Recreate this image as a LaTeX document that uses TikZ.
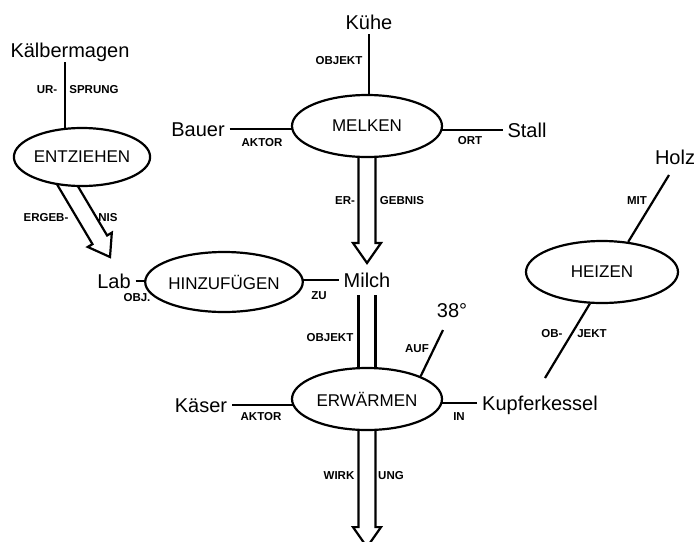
\documentclass[tikz,border=0pt]{standalone}
\usepackage{fontspec}
\setmainfont{Liberation Sans}
\usetikzlibrary{calc,shapes.geometric}
\pgfdeclarelayer{bg}
\pgfsetlayers{bg,main}
\tikzset{
  proc/.style={ellipse, draw, line width=2.2pt, fill=white, inner sep=0pt,
    font=\fontsize{17}{17}\selectfont},
  term/.style={inner sep=1pt, outer sep=4pt, font=\fontsize{20}{20}\selectfont,
    text height=14pt, text depth=0pt},
  rel/.style={inner sep=0pt, font=\fontsize{11.5}{11.5}\selectfont\bfseries,
    text height=8pt, text depth=0pt},
  conn/.style={line width=2.2pt},
  dconn/.style={line width=2.2pt, line join=miter},
}
\newcommand\dblarrow[2]{%
  \coordinate (dbB) at ($(#2)!20pt!(#1)$);
  \draw[dconn] ($(#1)!8.5pt!90:(#2)$) -- ($(dbB)!8.5pt!90:(#2)$)
    -- ($(dbB)!14pt!90:(#2)$) -- (#2) -- ($(dbB)!14pt!-90:(#2)$)
    -- ($(dbB)!8.5pt!-90:(#2)$) -- ($(#1)!8.5pt!-90:(#2)$);
}
\begin{document}
\begin{tikzpicture}[x=1pt,y=-1pt]
\useasboundingbox (0,0) rectangle (695,541);
\clip (0,0) rectangle (695,541);

% terms
\node[term] (kalb) at (70,50) {Kälbermagen};
\node[term] (kuhe) at (369,22) {Kühe};
\node[term] (bauer) at (198,129) {Bauer};
\node[term] (stall) at (527,130) {Stall};
\node[term] (holz) at (675,157) {Holz};
\node[term] (lab) at (114,281) {Lab};
\node[term] (milch) at (367,280) {Milch};
\node[term] (deg) at (452,310) {38°};
\node[term] (kaeser) at (201,405) {Käser};
\node[term] (kupfer) at (540,403) {Kupferkessel};

% processes
\node[proc, minimum width=134pt, minimum height=58pt] (entz) at (82,157) {ENTZIEHEN};
\node[proc, minimum width=150pt, minimum height=62pt] (melken) at (367,126) {MELKEN};
\node[proc, minimum width=150pt, minimum height=60pt] (hinz) at (224,282) {HINZUFÜGEN};
\node[proc, minimum width=152pt, minimum height=62pt] (heiz) at (602,272) {HEIZEN};
\node[proc, minimum width=150pt, minimum height=62pt] (erw) at (367,399) {ERWÄRMEN};

% relation labels
\node[rel] (r1) at (47,89) {UR-};
\node[rel] (r2) at (94,89) {SPRUNG};
\node[rel] (r3) at (46,217) {ERGEB-};
\node[rel] (r4) at (108,217) {NIS};
\node[rel] (r5) at (137,297) {OBJ.};
\node[rel] (r6) at (339,60) {OBJEKT};
\node[rel] (r7) at (262,142) {AKTOR};
\node[rel] (r8) at (470,140) {ORT};
\node[rel] (r9) at (345,200) {ER-};
\node[rel] (r10) at (402,200) {GEBNIS};
\node[rel] (r11) at (319,295) {ZU};
\node[rel] (r12) at (637,200) {MIT};
\node[rel] (r13) at (552,333) {OB-};
\node[rel] (r14) at (592,333) {JEKT};
\node[rel] (r15) at (330,337) {OBJEKT};
\node[rel] (r16) at (417,348) {AUF};
\node[rel] (r17) at (261,416) {AKTOR};
\node[rel] (r18) at (459,416) {IN};
\node[rel] (r19) at (339,475) {WIRK};
\node[rel] (r20) at (391,475) {UNG};

\begin{pgfonlayer}{bg}
  \coordinate (k1) at ([xshift=-5pt]kalb.south);
  \draw[conn] (k1) -- (k1 |- entz.center);
  \draw[conn] (kuhe.south) -- (kuhe.south |- melken.center);
  \draw[conn] (bauer.east) -- (bauer.east -| melken.center);
  \draw[conn] (stall.west) -- (stall.west -| melken.center);
  \draw[conn] (lab.east) -- (lab.east -| hinz.center);
  \draw[conn] (milch.west) -- (milch.west -| hinz.center);
  \draw[conn] (kaeser.east) -- (kaeser.east -| erw.center);
  \draw[conn] (kupfer.west) -- (kupfer.west -| erw.center);
  \draw[conn] (erw.23) -- ($(deg.south)+(-9,8)$);
  \draw[conn] (heiz.49) -- ($(holz.south)+(-6,6)$);
  \draw[conn] (heiz.249) -- ($(kupfer.north)+(5,-13)$);

  % double arrows
  \coordinate (entzOut) at ($(entz.center)+(-26,9)$);
  \coordinate (labTip) at ($(lab.north)+(-4,-12)$);
  \dblarrow{entzOut}{labTip}
  \coordinate (milchTip) at ([yshift=5pt]milch.north);
  \dblarrow{melken.center}{milchTip}
  \coordinate (wirkTip) at ($(erw.south)+(0,116)$);
  \dblarrow{erw.center}{wirkTip}
  \coordinate (ms) at ([yshift=-3pt]milch.south);
  \coordinate (me) at (ms |- erw.center);
  \draw[conn] ($(ms)+(-8.5,0)$) -- ($(me)+(-8.5,0)$);
  \draw[conn] ($(ms)+(8.5,0)$) -- ($(me)+(8.5,0)$);
\end{pgfonlayer}
\end{tikzpicture}
\end{document}
